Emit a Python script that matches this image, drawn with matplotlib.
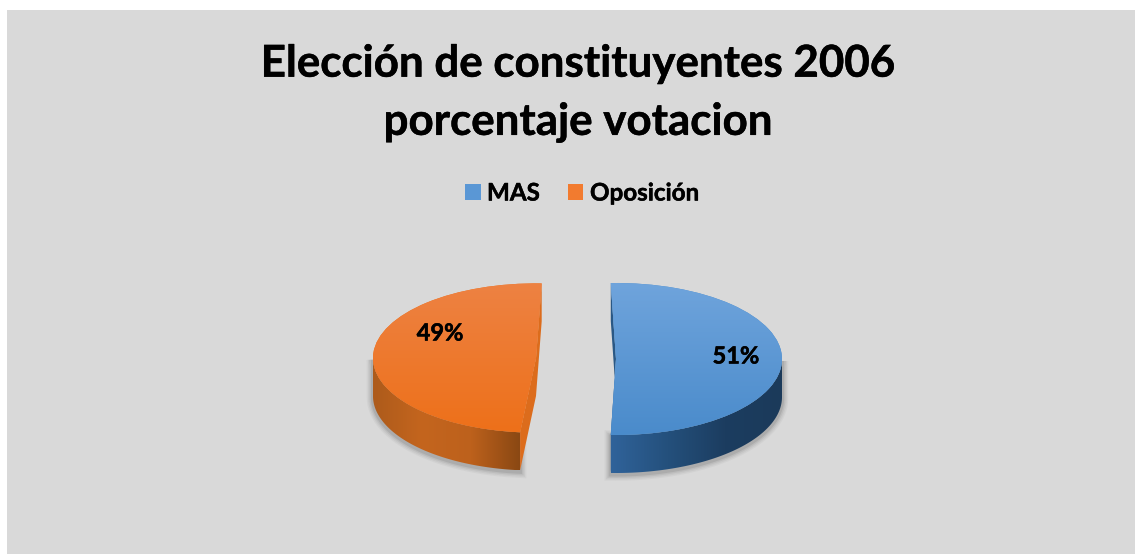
import numpy as np
import matplotlib
matplotlib.use("Agg")
import matplotlib.pyplot as plt
import matplotlib.patheffects as pe
from matplotlib.colors import LinearSegmentedColormap as LSC
from matplotlib.patches import Polygon, Rectangle

title = "Elección de constituyentes 2006\nporcentaje votacion"
categories = ["MAS", "Oposición"]
values = [51, 49]

W, H = 1135, 554
PX, PY = 577, 359
RX, RY = 166, 76
DEPTH = 38 / RY

plt.rcParams['font.family'] = ['Lato', 'DejaVu Sans']
fig = plt.figure(figsize=(W / 100, H / 100), dpi=100, facecolor='white')
ax = fig.add_axes([0, 0, 1, 1])
xlim = (-PX / RX, (W - PX) / RX)
ylim = ((PY - H) / RY, PY / RY)
bold = [pe.withStroke(linewidth=0.35, foreground='black')]


def px(x, y):
    return (x - PX) / RX, (PY - y) / RY


styles = [
    dict(idx=0, start=91.8, center=px(616, 359), radius=1.0,
         top=['#6fa4dc', '#4a8bcb'], side=['#30639a', '#24507c', '#1c3d60', '#1b3a5a'],
         face='#2a5885', side_x=(611, 782)),
    dict(idx=1, start=88.0, center=px(536, 358), radius=163 / RX,
         top=['#ee8243', '#ed7019'], side=['#ad5b1b', '#c4651e', '#bd611c', '#8a4813'],
         face='#dc6c1c', side_x=(373, 520)),
]

made = []
for s in styles:
    wedges, _ = ax.pie(values, startangle=s['start'], counterclock=False,
                       radius=s['radius'], center=s['center'],
                       colors=[s['top'][1]] * len(values))
    for i, w in enumerate(wedges):
        if i != s['idx']:
            w.remove()
    made.append(wedges[s['idx']])

ax.set_aspect('auto')
ax.set_frame_on(False)
ax.set_xticks([])
ax.set_yticks([])
ax.patch.set_visible(False)

fig.add_artist(Rectangle((7, 0), W - 7, H - 10, transform=None, facecolor='#d9d9d9',
                         edgecolor='none', zorder=-2))

for w, s in zip(made, styles):
    cx, cy = w.center
    r = w.r
    th = np.linspace(w.theta1, w.theta2, 240)
    front = th[np.sin(np.radians(th)) <= 0]
    ax_, ay_ = cx + r * np.cos(np.radians(front)), cy + r * np.sin(np.radians(front))
    side_pts = np.vstack([np.c_[ax_, ay_], np.c_[ax_[::-1], ay_[::-1] - DEPTH]])

    # soft shadow under the side wall
    for lw, a in [(9, .04), (7, .05), (5, .07), (3, .10)]:
        ax.add_patch(Polygon(side_pts + [0, -1.5 / RY], closed=True, facecolor='none',
                             edgecolor=(.15, .15, .15, a), linewidth=lw, zorder=1))

    # cut face
    t1, t2 = np.radians([w.theta1, w.theta2])
    a = (cx + r * np.cos(t1), cy + r * np.sin(t1))
    b = (cx + r * np.cos(t2), cy + r * np.sin(t2))
    face = [a, (cx, cy), b, (b[0], b[1] - DEPTH), (cx, cy - DEPTH), (a[0], a[1] - DEPTH)]
    ax.add_patch(Polygon(face, closed=True, facecolor=s['face'], edgecolor='none', zorder=2))

    # side wall with horizontal gradient
    sx0, sx1 = px(s['side_x'][0], 0)[0], px(s['side_x'][1], 0)[0]
    sy0, sy1 = side_pts[:, 1].min(), side_pts[:, 1].max()
    im = ax.imshow(np.linspace(0, 1, 256)[None, :], cmap=LSC.from_list('s', s['side']),
                   extent=(sx0, sx1, sy0, sy1), aspect='auto', zorder=3, interpolation='bilinear')
    clip = Polygon(side_pts, closed=True, transform=ax.transData, facecolor='none', edgecolor='none')
    ax.add_patch(clip)
    im.set_clip_path(clip)

    # top surface with vertical gradient
    w.set_zorder(4)
    im2 = ax.imshow(np.linspace(0, 1, 256)[:, None], cmap=LSC.from_list('t', s['top']),
                    extent=(cx - r, cx + r, cy - 1, cy + 1), origin='upper', aspect='auto',
                    zorder=5, interpolation='bilinear')
    im2.set_clip_path(w)

ax.set_xlim(xlim)
ax.set_ylim(ylim)

fig.text(578 / W, 1 - 93 / H, title, ha='center', va='center', fontsize=31.6,
         fontweight='bold', color='black', linespacing=1.55, path_effects=bold)

for v, (x, y) in zip(values, [(736, 356), (440, 333)]):
    fx, fy = px(x, y)
    ax.text(fx, fy, f"{v}%", ha='center', va='center', fontsize=17, fontweight='bold',
            color='black', zorder=8, path_effects=bold)

for cat, col, (x0, x1), tx in zip(categories, ['#5a97d5', '#f27b2f'], [(465, 481), (568, 583)], [487, 590]):
    fig.add_artist(Rectangle((x0, H - 200), x1 - x0, 16, transform=None, facecolor=col,
                             edgecolor='none', zorder=-1))
    fig.text(tx / W, 1 - 193 / H, cat, ha='left', va='center', fontsize=17.4, fontweight='bold',
             color='black', path_effects=bold)

fig.savefig('out.png', dpi=100, facecolor='white')
